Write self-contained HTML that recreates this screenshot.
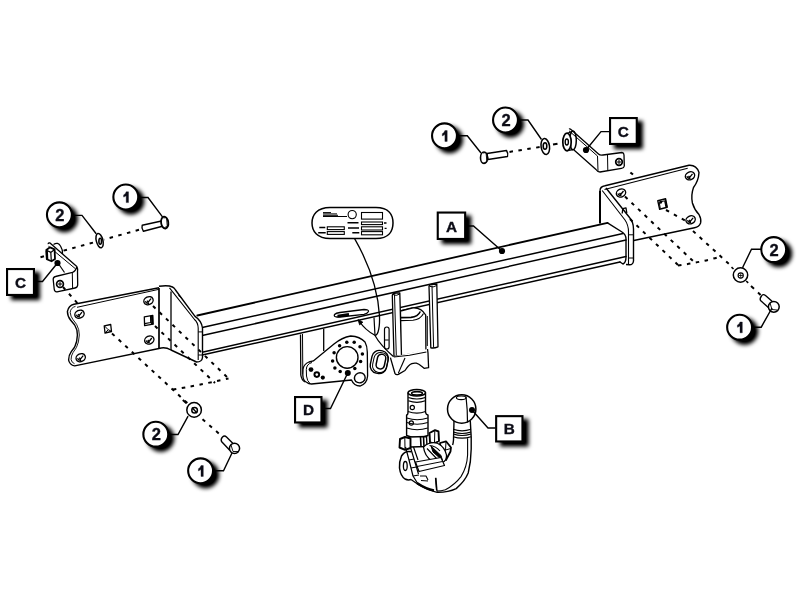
<!DOCTYPE html>
<html><head><meta charset="utf-8"><title>Tow bar</title>
<style>
html,body{margin:0;padding:0;background:#fff;width:800px;height:600px;overflow:hidden}
svg{display:block}
.t{font-family:"Liberation Sans",sans-serif;font-weight:bold;fill:#0c0c16;stroke:#0c0c16;stroke-width:0.35;text-anchor:middle}
</style></head><body>
<svg width="800" height="600" viewBox="0 0 800 600">
<defs>
<filter id="sh" x="-50%" y="-50%" width="200%" height="200%">
<feGaussianBlur in="SourceAlpha" stdDeviation="1.9"/>
<feOffset dx="4.5" dy="4.4" result="b"/>
<feComponentTransfer in="b" result="c"><feFuncA type="linear" slope="1.1"/></feComponentTransfer>
<feMerge><feMergeNode in="c"/><feMergeNode in="SourceGraphic"/></feMerge>
</filter>
<filter id="nop" x="0" y="0" width="1" height="1"><feOffset dx="0" dy="0"/></filter>
</defs>
<rect width="800" height="600" fill="#fff"/>

<!-- DASHED LINES -->
<g fill="none" stroke="#000" stroke-width="2" stroke-dasharray="3.5 5.5">
<path d="M139,229.8 L104,239.5"/>
<path d="M93,242.6 L63,250.8"/>
<path d="M44,256.3 L40.5,257.3" stroke-dasharray="none"/>
<path d="M63,287 L79,305"/>
<path d="M112,333.5 L190,405.5"/>
<path d="M202.5,419.3 L220,434.5"/>
<path d="M153,306 L228.5,378.5"/>
<path d="M155,326 L215,383"/>
<path d="M173,389.5 Q195,386 228.5,378.5"/>
<path d="M509.5,151.9 L540,147"/>
<path d="M553,144.6 L557.5,143.8" stroke-dasharray="none"/>
<path d="M630.4,172.4 L633,174.6" stroke-dasharray="none"/>
<path d="M625,196.5 L693,261"/>
<path d="M630,219 L678,265"/>
<path d="M666,210 L685,220.5"/>
<path d="M693,231 L729,264"/>
<path d="M678,265.5 Q700,262.5 721,256.5"/>
<path d="M751,286 L754,288.7 M758,292.6 L760.6,295" stroke-dasharray="none"/><path d="M731.5,267.2 L733.5,269 M746.2,281 L748.2,282.8" stroke-dasharray="none" stroke-width="1.6"/>
<path d="M182.8,400 L186.5,403.2" stroke-dasharray="none"/>
</g>

<!-- MAIN CROSSBAR -->
<g fill="none" stroke="#000" stroke-width="1.5" stroke-linecap="round">
<path d="M197.3,315.5 L607.5,222.8" stroke-width="1.8"/>
<path d="M607.5,222.8 L622,232 Q626,234.5 626,239 L626,257 Q626,262.5 623,264 L620,262" stroke-width="1.4"/>
<path d="M203.3,327.3 L623,233.6"/>
<path d="M203.3,335.3 L626,240"/>
<path d="M203.3,352 L626,256.5"/>
<path d="M203.3,354.7 L620,262"/>
</g>

<!-- LEFT BRACKET PLATE -->
<g fill="none" stroke="#000" stroke-width="1.4" stroke-linejoin="round">
<path d="M159,287.7 L74,304.2 Q68.5,305.5 67.4,311.5 Q67.5,316.5 70.7,320.3 L74.7,325 Q77.5,329.5 77.4,335 Q77.2,342 74.7,347 L71.3,351.7 Q68.5,355.5 68.6,360 Q69.5,365 74.7,365.9 L159,348.5"/>
<path d="M75.5,306.3 Q70.6,307.8 70.2,312.3 Q70.5,316.5 73,319.6 L76.6,324.4 Q79.4,329.5 79.3,335 Q79,342.5 76.4,347.6 L73,352.6 Q70.9,356 71.1,359.5 Q71.6,362.6 74.5,363.7" stroke-width="0.9"/>
<path d="M77,307.3 L159,289.3" stroke-width="1"/>
<path d="M159,286.3 Q168,284.8 172.5,287 Q174.5,288 175.5,290 L195,316.3 Q201.5,320.5 202.5,328 L202.5,357.5 Q202,362 196.5,362 L171,350 Q165,346.5 159,348.5"/>
<path d="M169.5,287.8 L194.5,319.5 Q198,322.5 198.2,328 L198.2,360" stroke-width="1.1"/><path d="M178.3,295.5 L181.5,297.8 M198.2,331.9 h4.3 M198.2,355 h4.3" stroke-width="1"/>
<path d="M159,288 L159,348.5" stroke-width="1.7"/>
<path d="M171,291.5 L171,350" stroke-width="1.3"/>
<g stroke-width="1.1">
<ellipse cx="79.5" cy="314.2" rx="4.8" ry="3.9" transform="rotate(-25 79.5 314.2)" stroke-width="1.4"/><path d="M76.3,314.7 Q77.5,317.4 80.0,316.8 M78.0,314.2 L79.2,315.7 L82.0,312.2" stroke-width="1.3"/>
<ellipse cx="80.7" cy="357.7" rx="4.8" ry="3.9" transform="rotate(-25 80.7 357.7)" stroke-width="1.4"/><path d="M77.5,358.2 Q78.7,360.9 81.2,360.3 M79.2,357.7 L80.4,359.2 L83.2,355.7" stroke-width="1.3"/>
<ellipse cx="148.5" cy="300.7" rx="4.8" ry="3.9" transform="rotate(-25 148.5 300.7)" stroke-width="1.4"/><path d="M145.3,301.2 Q146.5,303.9 149.0,303.3 M147.0,300.7 L148.2,302.2 L151.0,298.7" stroke-width="1.3"/>
<ellipse cx="149.3" cy="340.0" rx="4.8" ry="3.9" transform="rotate(-25 149.3 340.0)" stroke-width="1.4"/><path d="M146.1,340.5 Q147.3,343.2 149.8,342.6 M147.8,340.0 L149.0,341.5 L151.8,338.0" stroke-width="1.3"/>
<path d="M104.2,325.8 L110.7,324.5 L111.5,331.5 L105,333 Z" stroke-width="1.3"/><path d="M104.5,326 L108.3,329.8 L111,331 M108.3,329.8 L105.3,332.5" stroke-width="1"/>
<path d="M144.3,316.8 L152.8,315.4 L153.2,324.2 L144.6,325.6 Z" stroke-width="1.3"/><path d="M150.5,315.8 L150.7,322.5 L144.6,323.6 M150.7,322.5 L153.1,324" stroke-width="1.1"/><path d="M151,316 L153,315.6 L153.2,324 L151.2,324.3 Z" fill="#000" stroke="none"/>
</g>
</g>

<!-- RIGHT BRACKET PLATE -->
<g fill="none" stroke="#000" stroke-width="1.4" stroke-linejoin="round">
<path d="M600,223.5 L600,191" stroke-width="2"/><path d="M600,191 Q600,186.5 605,185.8 L689,165.3 Q696.5,164.8 699,172.5 Q698.5,181 693.5,187.5 Q690.8,195 692.4,203 Q694.5,210 699,214.5 Q701.5,219 700.6,223 Q699,227 694.5,227.8 L633.8,240.5"/>
<path d="M604.5,189.5 L687.7,168.2" stroke-width="1.1"/>
<path d="M606,188 L629.5,217.5 Q633.5,222 633.5,229 L633.5,261 Q633,264.8 629.5,264.8 L626,264.5"/>
<path d="M602.2,190.5 L625,220 Q628.5,225 628.5,232 L628.5,264" stroke-width="1.1"/><path d="M628.5,234.8 h5.2 M628.5,258 h5.2" stroke-width="1"/>
<g stroke-width="1.1">
<ellipse cx="690.0" cy="175.8" rx="4.8" ry="3.9" transform="rotate(-25 690.0 175.8)" stroke-width="1.4"/><path d="M686.8,176.3 Q688.0,179.0 690.5,178.4 M688.5,175.8 L689.7,177.3 L692.5,173.8" stroke-width="1.3"/>
<ellipse cx="621.0" cy="193.0" rx="4.8" ry="3.9" transform="rotate(-25 621.0 193.0)" stroke-width="1.4"/><path d="M617.8,193.5 Q619.0,196.2 621.5,195.6 M619.5,193.0 L620.7,194.5 L623.5,191.0" stroke-width="1.3"/>
<ellipse cx="690.6" cy="219.8" rx="4.8" ry="3.9" transform="rotate(-25 690.6 219.8)" stroke-width="1.4"/><path d="M687.4,220.3 Q688.6,223.0 691.1,222.4 M689.1,219.8 L690.3,221.3 L693.1,217.8" stroke-width="1.3"/>
<path d="M657.8,200.8 L665.6,198.8 L667.2,207.2 L659.6,209.2 Z" stroke-width="1.4"/><path d="M659.2,202.2 L664.6,200.8 L665.8,206.6 M659.2,202.2 L660.3,208.5" stroke-width="1"/><path d="M665.2,199 L667.2,207.2 L665.8,206.6 Z" fill="#000" stroke-width="0.8"/><circle cx="660.8" cy="202.3" r="0.9" fill="#000"/>
<path d="M622.2,213.5 L622.8,208.6 L626,207.8 L626.8,213" stroke-width="1.3"/>
</g>
</g>

<!-- LABEL PLATE -->
<g fill="none" stroke="#000" stroke-width="1.3">
<path d="M330,207.4 L376,207.4 C389,207.4 393,215 393,223 C393,231 389,238.6 376,238.6 L330,238.6 C317,238.6 312,231 312,223 C312,215 317,207.4 330,207.4 Z" stroke-width="1.5"/>
<circle cx="352.2" cy="214.6" r="4.1" stroke-width="1.1"/>
<rect x="361.5" y="212.5" width="21" height="6.6" stroke-width="1.1"/>
<rect x="361.5" y="222" width="21" height="2.6" stroke-width="1.1"/>
<rect x="361.5" y="226.8" width="21" height="3.2" stroke-width="1.1"/>
<rect x="361.5" y="231.6" width="21" height="3.2" stroke-width="1.1"/>
<rect x="327.3" y="226.8" width="17" height="2.8" stroke-width="1.1"/>
<rect x="327.3" y="231.6" width="17" height="2.8" stroke-width="1.1"/>
<path d="M323,212.6 h8 M323,213.9 h14 M323,215.3 h15 M323,216.5 h24" stroke-width="1"/>
<path d="M319.3,227.5 h6 M318.2,232.7 h7.5 M347.5,222.7 h11 M348,228 h11 M352.3,232.7 h7 M384,223 h2.5 M384.6,228.4 h2" stroke-width="1.4"/>
</g>

<!-- CENTRE PARTS (under bar) -->
<g fill="none" stroke="#000" stroke-width="1.3" stroke-linejoin="round">
<!-- slot on bar -->
<path d="M337,317 Q333.5,317 334.5,314.5 Q336,313 340,312.5 L364,309.5 Q369,309.5 368.5,311.5 Q367.5,313.5 364,314.3 L340,317 Z" fill="#fff"/>
<path d="M337.5,316.2 L349,314.5" stroke-width="2.8"/>
<!-- bracket edges -->
<path d="M374,317.5 Q374.5,326 375,335.5 Q380,345 395,358" stroke-width="1.2"/>
<!-- left vertical bracket under bar -->
<path d="M300.5,334.5 L300.8,375 Q301.5,380 305,382"/>
<path d="M302.5,334 L302.8,374" stroke-width="1"/>
<path d="M323.7,328.8 L323.7,351"/>
<!-- socket plate D -->
<path d="M307,382.5 Q303,381 302.8,374.9 L303,369 Q304,364 309,362 L313.3,360.9 L334,344 Q342,337.5 350.7,336 Q360,336.5 365,342 Q367.2,346 367.3,352 L367.6,376 Q367,384 360,386 Q354,386 351.5,380 L311.5,384 Q308.5,384 307,382.5 Z" fill="#fff"/>
<path d="M312,362.5 Q306.5,364 306.3,369.5 L306.5,376 Q307,381 310,383.5" stroke-width="1"/>
<circle cx="347.2" cy="357.4" r="10.8" stroke-width="1.4"/>
<ellipse cx="359.8" cy="377.8" rx="5.4" ry="5" transform="rotate(-20 359.8 377.8)" stroke-width="1.4"/>
<g fill="#000" stroke="none">
<circle cx="339.6" cy="345.7" r="1.75"/><circle cx="346.8" cy="342.2" r="1.75"/><circle cx="354.2" cy="342.2" r="1.75"/><circle cx="360" cy="346.8" r="1.75"/><circle cx="362.4" cy="353.9" r="1.75"/><circle cx="360.6" cy="361.4" r="1.75"/><circle cx="354.8" cy="368.4" r="1.75"/><circle cx="340.2" cy="371.4" r="1.75"/><circle cx="334.9" cy="367.9" r="1.75"/><circle cx="332.6" cy="360.9" r="1.75"/><circle cx="334.1" cy="352.7" r="1.75"/>
<circle cx="347.8" cy="373.1" r="3"/>
<circle cx="311" cy="369.6" r="2.4"/><circle cx="316.8" cy="374.6" r="3.3"/><circle cx="322.8" cy="377.6" r="2.1"/>
</g>
<circle cx="316.8" cy="374.6" r="1.3" fill="#fff" stroke="none"/>
<!-- oval ring -->
<rect x="371" y="350.5" width="16.5" height="23" rx="7.5" transform="rotate(12 379.3 362)" fill="#fff" stroke-width="1.4"/>
<rect x="373.3" y="352.3" width="14.2" height="20" rx="6.5" transform="rotate(12 379.3 362)" stroke-width="1"/>
<rect x="376.8" y="354.2" width="8.3" height="14.8" rx="4" transform="rotate(12 381 361.6)" stroke-width="1.5"/>
<!-- small oval -->
<rect x="384.5" y="327" width="4.6" height="22" rx="2.3" fill="#fff" stroke-width="1.2"/>
<path d="M384.8,340 h4" stroke-width="1"/>
<!-- cylinder -->
<path d="M400.5,311 L412,308 Q421,307 425.7,315 L425.9,351 L400.5,356 Z" fill="#fff"/>
<path d="M400.5,317.6 L411,317.4 Q418,316.8 420.3,311.5" stroke-width="1.6"/>
<path d="M400.5,320.6 L413,320.3 Q420.5,319.3 423.5,313.5" stroke-width="1.1"/>
<path d="M427.3,316 L427.3,346" stroke-width="1"/>
<!-- two vertical plates -->
<path d="M392.3,295.5 Q392.5,293.2 396,293 L399.8,292.8 L401.5,355.8 L394,356.5 Z" fill="#fff"/>
<path d="M394.5,294.5 L396.3,355.5" stroke-width="1"/>
<path d="M393,294.5 Q396,296.5 399.8,294" stroke-width="1"/>
<path d="M429,286.3 Q429.3,284.5 432,284.3 L436.8,284 L438,346.8 Q434,348.5 430.8,347.8 Z" fill="#fff"/>
<path d="M432,285.5 L433.6,347.5" stroke-width="1"/>
<path d="M429.5,286.3 Q433,288 436.8,285.5" stroke-width="1"/>
<!-- saddle -->
<path d="M390.4,357.6 L394.9,373.3 Q396,375.2 398.3,374.4 L405,370.5 Q408.5,365 411.8,363.7 Q414,362.8 416.3,363.2 Q419,364 421.3,366 L424.1,368.3 L428.6,367.7 L428,353 L427.5,349" fill="#fff"/>
<path d="M393.8,357 L409.5,355.3 L426.4,352" stroke-width="1.1"/>
<path d="M405,358 L398.3,373.3" stroke-width="1.1"/>
</g>
<!-- label leader -->
<path d="M354.6,238.6 C368,262 378,290 379.5,316 C380,331 377,336.5 374.5,335 C368,331.5 362.5,326 359.5,321.5" fill="none" stroke="#000" stroke-width="1.3"/>
<path d="M358,319.6 L362.9,322.2 L359.6,324.9 Z" fill="#000" stroke="#000" stroke-width="0.8"/>

<!-- SMALL BRACKET C LEFT -->
<g fill="none" stroke="#000" stroke-width="1.3" stroke-linejoin="round">
<path d="M53.5,244.5 Q58,241.5 60.5,246 Q63,250 62.5,254"/>
<path d="M48.3,244.2 Q48,242.5 50,243 L76.8,266.5 Q78,268.5 77.5,271 L77.7,285 Q77.5,287.5 75,288 L57,291.8 Q54.5,292 54.2,289 L53.2,279.5 Q53.2,277 55.5,276.5 L72.5,272.3 Q75.5,271.3 76.8,267"/>
<path d="M48.5,246.3 L75.5,268.8" stroke-width="1"/>
<path d="M58,263 L64.5,272.5" stroke-width="1.2"/>
<path d="M72.3,272.5 L72.6,288.5" stroke-width="1"/>
<path d="M46.3,250 L50,247.3 L54.6,249.3 L55,259 L51.5,261.3 L46.8,259.2 Z" fill="#fff" stroke-width="1.8"/>
<path d="M46.5,250.2 L50.8,252.4 L54.6,249.5 M50.8,252.4 L51.3,261" stroke-width="1.2"/><path d="M46.8,251 L47.2,259" stroke-width="2.2"/>
<circle cx="60" cy="284" r="3.4" stroke-width="1.7"/>
<path d="M58,284 h4 M60,282 v4" stroke-width="1"/>
</g>
<!-- SMALL BRACKET C RIGHT -->
<g fill="none" stroke="#000" stroke-width="1.3" stroke-linejoin="round">
<path d="M567,133.5 L573,131 M567,150.5 L573.5,149.7"/>
<ellipse cx="573" cy="140.3" rx="3.3" ry="9.4" fill="#fff" stroke-width="1.5"/>
<ellipse cx="567" cy="142" rx="4.2" ry="8.8" fill="#fff" stroke-width="1.7"/>
<ellipse cx="566.8" cy="142" rx="1.6" ry="3" stroke-width="1.4"/>
<path d="M569,129 Q570,128.5 571,129.5 L598.5,154 Q600,155.5 603,155 L622,152.5 Q624,152.8 624,155 L624.3,166 Q624,168 621.5,168.3 L600,172 Q597.5,172 596,169.5 L574,150"/>
<path d="M569,130.8 L597.5,156 L598,171" stroke-width="1"/>
<path d="M607.5,154.5 L607.8,170.5" stroke-width="1"/>
<circle cx="619" cy="162" r="3.3" stroke-width="1.7"/>
<path d="M617,162 h4 M619,160 v4" stroke-width="1"/>
</g>

<!-- WASHERS / BOLTS -->
<g fill="#fff" stroke="#000" stroke-width="1.4" stroke-linejoin="round">
<!-- left upper bolt -->
<path d="M142.2,225.3 L161.5,221 L162.5,226.3 L143.4,231.3 Q141.2,228.3 142.2,225.3 Z"/>
<ellipse cx="164.7" cy="222.6" rx="3.6" ry="6" transform="rotate(-8 164.7 222.6)" stroke-width="1.8"/>
<path d="M163.5,218 L166.5,217.5 L167.3,226.5 L164.5,227.5" stroke-width="0.9" fill="none"/>
<!-- left upper washer -->
<ellipse cx="99.6" cy="240.6" rx="3.3" ry="7.3" transform="rotate(-14 99.6 240.6)" stroke-width="1.5"/>
<!-- upper right bolt -->
<path d="M487,153.5 L506.5,150.5 Q508.5,153.5 507.5,156.5 L488,159.5 Z"/>
<ellipse cx="484" cy="157.7" rx="3.5" ry="5.7" stroke-width="1.6"/>
<path d="M483,153 L486,152.5 L487,162 L484.5,162.5" stroke-width="0.9" fill="none"/>
<!-- upper right washer -->
<ellipse cx="545.3" cy="146.5" rx="4.2" ry="8" transform="rotate(-8 545.3 146.5)" stroke-width="1.5"/>
<!-- right washer -->
<circle cx="740.5" cy="275" r="7.2" stroke-width="1.5"/>
<!-- right bolt -->
<path d="M761.5,296 Q763,293.5 765.5,295.5 L774,303 L769.5,308.5 L760.5,300.5 Q759.5,298.5 761.5,296 Z"/>
<circle cx="773.8" cy="306.8" r="5.4" stroke-width="1.5"/>
<!-- bottom washer -->
<circle cx="194.1" cy="409.9" r="7.3" stroke-width="1.5"/>
<!-- bottom bolt -->
<path d="M222.5,437 Q224.5,435 226.5,437 L234.5,445 L229.5,450 L221.5,441.5 Q220.5,439 222.5,437 Z"/>
<circle cx="234.5" cy="448.3" r="5.1" stroke-width="1.5"/>
</g>
<g fill="none" stroke="#000" stroke-width="1.1">
<ellipse cx="100.2" cy="241.2" rx="1.3" ry="3" stroke-width="1.6"/>
<ellipse cx="545" cy="146" rx="1.8" ry="3.3" stroke-width="1.6"/>
<circle cx="740.7" cy="275.5" r="2.6"/>
<path d="M738.5,275.5 h4.4 M740.7,273.3 v4.4" stroke-width="0.8"/>
<circle cx="194.6" cy="410.2" r="2.8" stroke-width="1.5"/>
<path d="M192,407.5 L197,413" stroke-width="1.3"/>
<path d="M770,303 L772,309.5 L777,310" stroke-width="0.9"/>
<path d="M231,445 L233,451.5 L238,451.5" stroke-width="0.9"/>
</g>

<!-- TOW BALL B -->
<g fill="none" stroke="#000" stroke-width="1.4" stroke-linejoin="round">
<!-- J hook -->
<path d="M470.3,421 L471.2,437 L471.2,449 Q471,462 468.2,473 Q465,481 456.2,488.6 Q448,492.5 437,492.3" fill="#fff"/>
<path d="M467.6,438.2 L467.6,455 Q467,467 461,476.6 Q455,484.5 445.4,489.8 Q441,491 437,491" stroke-width="1.1"/>
<path d="M454,421 L453.5,440 Q453.3,443 452.6,445"/>
<path d="M453.2,429.3 Q462,432.3 471,429.3 M453.2,432 Q462,435 471,432 M453.2,434 Q462,437 471,434 M453.2,436.7 Q462,439.7 471,436.7" stroke-width="1.2"/>
<path d="M435.8,477.8 L437,491.5"/>
<!-- ball -->
<circle cx="461.7" cy="409" r="14.2" fill="#fff" stroke-width="1.5"/>
<path d="M466,396.5 Q467.6,410 467.5,422.6" stroke-width="1.2"/>
<ellipse cx="461.2" cy="397.8" rx="4.8" ry="1.8" stroke-width="1.1"/>
<!-- upper cylinder -->
<path d="M408,392.8 L408,412 Q408,415 406.6,415 L406.6,435.5 Q417,440 428,435.5 L428,415 Q426,415 425.5,412 L425.5,392.8" fill="#fff"/>
<ellipse cx="416.75" cy="392.75" rx="8.75" ry="3.3" fill="#fff" stroke-width="1.6"/>
<ellipse cx="417" cy="393.3" rx="5.4" ry="1.7" stroke-width="1.6"/>
<path d="M408.3,397.5 Q417,400.5 425.3,397.5 M408.3,400.8 Q417,403.8 425.3,400.8" stroke-width="1.2"/>
<path d="M408,411.5 Q417,414.8 425.5,411.5" stroke-width="1.2"/>
<path d="M406.8,418 Q417,421.5 427.8,418 M406.8,422.5 Q417,426 427.8,422.5 M406.8,428 Q417,431.5 427.8,428" stroke-width="1.2"/>
<circle cx="412.3" cy="407.5" r="2.1" stroke-width="1.2"/>
<circle cx="411.3" cy="423" r="2.1" stroke-width="1.2"/>
<!-- collar + nuts -->
<path d="M409.5,437 L426.5,436.5 L427,446.5 L410.5,447 Z" fill="#fff"/>
<path d="M420.5,437 L421,446.5 M423.5,436.8 L424,446.5" stroke-width="1.6"/>
<path d="M400,439 L405,437 L410.5,438.5 L410.5,448 L405,449.8 L399.5,447.5 Z" fill="#fff" stroke-width="1.9"/>
<path d="M404.8,437.5 L405,449.5" stroke-width="1"/>
<path d="M429.5,433 L435,430.2 L438.5,431.5 L439,441 L434,443.5 L430,442.5 Z" fill="#fff" stroke-width="1.9"/>
<path d="M434.8,430.5 L434.5,443" stroke-width="1"/>
<path d="M440,443 L446,441.3 L451,447.5 L450.5,451.5 L446,460 L441.5,457 Z" fill="#fff" stroke-width="1.8"/>
<path d="M446,441.5 L445.5,450 L450.8,448.5 M445.5,450 L441.5,456.5" stroke-width="1"/>
<!-- cam -->
<path d="M423.5,447 Q429,441.5 437,443 Q445,447 446.5,455 Q447,461 442,462.5 L432,461 Q424.5,456 423.5,447 Z" fill="#fff" stroke-width="1.3"/>
<path d="M431,446 L441,455.5 L442.5,460.5 L433,452 Z" fill="#000" stroke-width="1"/>
<path d="M427,448.5 L437.5,459.5 M429.5,445.5 Q436,446 440,451" stroke-width="1.1"/>
<!-- lower bar -->
<path d="M415.5,462 L441,457.5 L444.5,465.5 L419,471.5 Z" fill="#fff" stroke-width="1.2"/>
<path d="M417,466.5 L442.5,461.5" stroke-width="1"/>
<!-- left disc -->
<path d="M411.5,451.8 Q405,450 401.5,456 Q399,462 399.5,468 Q400.5,476 405,479 Q408,480.5 411,479.5" fill="#fff" stroke-width="1.5"/>
<ellipse cx="405.3" cy="466" rx="1.9" ry="4.5" stroke-width="1.3"/>
<!-- spine -->
<path d="M405.5,447 L409,460 L413,476 L418,484 M410.5,447.5 L414,459 L418.5,474 M413.5,447 L418,460" stroke-width="1.2"/>
<path d="M409,460 L414,459 M411,468 L416.5,467 M413,476 L419,475" stroke-width="1.1"/>
<path d="M411,479.5 L419,485 Q428,490.5 437,492.3" stroke-width="1.3"/>
<path d="M417,483 Q426,489 434,490.5" stroke-width="2.4"/>
<path d="M420,476 L426,476 L428,480 M421,480.5 L428,481" stroke-width="1.1"/>
<path d="M435.5,478 L436.5,490" stroke-width="1.2"/>
</g>

<!-- LEADER LINES -->
<g fill="none" stroke="#000" stroke-width="1.4">
<path d="M72.5,215.4 L82,215.4 L96.2,233.8"/>
<path d="M139,197.5 L148,197.5 L162.5,216.8"/>
<path d="M457.5,135.8 L467.3,135.8 L481,153"/>
<path d="M518.5,120 L528,120 L541.5,139.5"/>
<path d="M609.5,131.6 L601,131.6 L586,150"/>
<path d="M465.7,226 L473.5,226 L502,251"/>
<path d="M761.2,249.2 L751.5,249.2 L742.5,267.8"/>
<path d="M753.6,327.2 L761.2,327.2 L772,308"/>
<path d="M169.4,434.5 L178,434.5 L188.1,416.1"/>
<path d="M213.4,470.8 L223.5,470.8 L232,453"/>
<path d="M322,408.5 L330.5,408.5 L347.5,373.5"/>
<path d="M495.6,428 L488,428 L472,410"/>
<path d="M34.5,281.5 L42.5,281.5 L57.5,263"/>
</g>
<g fill="#000">
<circle cx="502" cy="251" r="3.1"/>
<circle cx="586" cy="150" r="3.1"/>
<circle cx="57.5" cy="263" r="3.1"/>
<circle cx="472" cy="410" r="3"/>
</g>

<!-- CALLOUT CIRCLES -->
<g filter="url(#sh)">
<g fill="#fff" stroke="#000" stroke-width="2.1">
<circle cx="59.4" cy="214.8" r="12.45"/>
<circle cx="125.8" cy="197" r="12.45"/>
<circle cx="444.5" cy="135.8" r="12.45"/>
<circle cx="505.5" cy="120" r="12.45"/>
<circle cx="773.7" cy="249.6" r="12.45"/>
<circle cx="739.6" cy="327.2" r="12.45"/>
<circle cx="155.8" cy="434.2" r="12.45"/>
<circle cx="200.6" cy="470.8" r="12.45"/>
<rect x="7.05" y="269.05" width="26.9" height="25.9"/>
<rect x="610.05" y="118.05" width="26.7" height="25.9"/>
<rect x="437.75" y="212.55" width="27.4" height="26.4"/>
<rect x="295.05" y="397.05" width="26.4" height="25.4"/>
<rect x="496.15" y="416.15" width="26.3" height="25.3"/>
</g></g>
<g class="t" font-size="16.5" filter="url(#nop)">
<text x="59.9" y="220.9">2</text>
<text x="506.0" y="126.1">2</text>
<text x="774.2" y="255.7">2</text>
<text x="156.3" y="440.3">2</text>
</g>
<g fill="#0c0c16" stroke="#0c0c16" stroke-width="0.35"><path d="M126.2,191.8 L128.5,191.8 L128.5,202.6 L126.2,202.6 L126.2,195.8 Q124.8,196.8 123.6,197.1 L123.6,194.9 Q125.6,194.1 126.2,191.8 Z"/><path d="M444.9,130.6 L447.2,130.6 L447.2,141.4 L444.9,141.4 L444.9,134.6 Q443.5,135.6 442.3,135.9 L442.3,133.7 Q444.3,132.9 444.9,130.6 Z"/><path d="M740.0,322.0 L742.3,322.0 L742.3,332.8 L740.0,332.8 L740.0,326.0 Q738.6,327.0 737.4,327.3 L737.4,325.1 Q739.4,324.3 740.0,322.0 Z"/><path d="M201.0,465.6 L203.3,465.6 L203.3,476.4 L201.0,476.4 L201.0,469.6 Q199.6,470.6 198.4,470.9 L198.4,468.7 Q200.4,467.9 201.0,465.6 Z"/></g>
<g class="t" font-size="15.3" filter="url(#nop)">
<text x="20.6" y="287.5">C</text>
<text x="623.4" y="137.0">C</text>
<text x="451.5" y="231.5">A</text>
<text x="308.6" y="414.8">D</text>
<text x="509.2" y="433.8">B</text>
</g>
</svg>
</body></html>
